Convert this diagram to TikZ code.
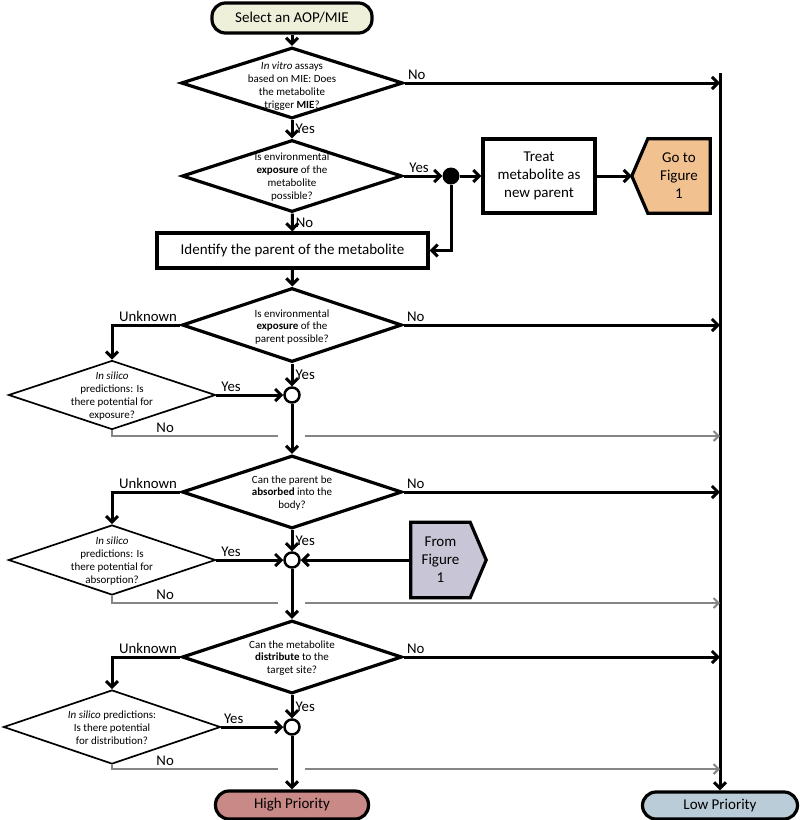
\documentclass[tikz,border=0pt]{standalone}
\usepackage{fontspec}
\setmainfont{Carlito}
\usetikzlibrary{arrows.meta,shapes.geometric,backgrounds}
\definecolor{startfill}{HTML}{EEF0DA}
\definecolor{highfill}{HTML}{C98A87}
\definecolor{lowfill}{HTML}{B9CCD8}
\definecolor{gofill}{HTML}{F2C190}
\definecolor{fromfill}{HTML}{C8C6D6}
\definecolor{grayline}{HTML}{858585}
\begin{document}
\begin{tikzpicture}[x=1pt,y=-1pt,
  arr/.style={line width=3pt,-{Straight Barb[length=6pt,width=12pt]}},
  garr/.style={line width=2pt,draw=grayline,-{Straight Barb[length=5pt,width=10pt]}},
  gline/.style={line width=2pt,draw=grayline},
  dia/.style={diamond,draw,line width=3.2pt,inner sep=0pt},
  sdia/.style={diamond,draw,line width=1.7pt,inner sep=0pt},
  dtext/.style={align=center,font=\fontsize{11}{12.8}\selectfont,inner sep=0pt},
  lab/.style={font=\fontsize{14.8}{17}\selectfont,inner sep=2pt},
  box/.style={draw,line width=3.2pt,align=center,font=\fontsize{15}{18}\selectfont,inner sep=0pt},
  term/.style={draw,line width=3.2pt,rounded corners=13.5pt,font=\fontsize{15}{18}\selectfont,inner sep=0pt},
  pent/.style={align=center,font=\fontsize{15}{18}\selectfont,inner sep=0pt},
  junc/.style={circle,draw,line width=2.5pt,fill=white,minimum size=15pt,inner sep=0pt},
  dot/.style={circle,fill=black,minimum size=17pt,inner sep=0pt}
]
\useasboundingbox (0,0) rectangle (800,820);

% terminals
\node[term,fill=startfill,minimum width=160pt,minimum height=30pt] (start) at (292,18) {Select an AOP/MIE};
\node[term,fill=highfill,minimum width=153pt,minimum height=28pt] (high) at (292,805) {High Priority};
\node[term,fill=lowfill,minimum width=155pt,minimum height=27pt] (low) at (720,805.5) {Low Priority};

% main diamonds
\node[dia,minimum width=222pt,minimum height=71pt] (d1) at (292,83) {};
\node[dtext] (d1t) at (292,86) {\textit{In vitro} assays\\based on MIE: Does\\the metabolite\\trigger \textbf{MIE}?};
\node[dia,minimum width=220pt,minimum height=72pt] (d2) at (292,176) {};
\node[dtext] (d2t) at (292,177) {Is environmental\\\textbf{exposure} of the\\metabolite\\possible?};
\node[dia,minimum width=220pt,minimum height=74pt] (d3) at (292,325) {};
\node[dtext] (d3t) at (292,327) {Is environmental\\\textbf{exposure} of the\\parent possible?};
\node[dia,minimum width=220pt,minimum height=73pt] (d4) at (292,492) {};
\node[dtext] (d4t) at (292,493) {Can the parent be\\\textbf{absorbed} into the\\body?};
\node[dia,minimum width=220pt,minimum height=73pt] (d5) at (292,657) {};
\node[dtext] (d5t) at (292,658) {Can the metabolite\\\textbf{distribute} to the\\target site?};

% small diamonds
\node[sdia,minimum width=207pt,minimum height=69pt] (s3) at (112,395) {};
\node[dtext] (s3t) at (112,396) {\textit{In silico}\\predictions: Is\\there potential for\\exposure?};
\node[sdia,minimum width=207pt,minimum height=70pt] (s4) at (112,560) {};
\node[dtext] (s4t) at (112,561) {\textit{In silico}\\predictions: Is\\there potential for\\absorption?};
\node[sdia,minimum width=217pt,minimum height=74pt] (s5) at (112,727) {};
\node[dtext] (s5t) at (112,728) {\textit{In silico} predictions:\\Is there potential\\for distribution?};

% boxes
\node[box,minimum width=112pt,minimum height=74pt] (treat) at (539,176) {Treat\\metabolite as\\new parent};
\node[box,minimum width=271pt,minimum height=35pt] (ident) at (292.5,250.5) {Identify the parent of the metabolite};

% pentagons
\node[pent,minimum width=62pt,minimum height=74pt] (go) at (679,176) {Go to\\Figure\\1};
\coordinate (gotip) at ([xshift=-16pt]go.west);
\node[pent,minimum width=59pt,minimum height=75pt] (from) at (440.5,560) {From\\Figure\\1};
\coordinate (fromtip) at ([xshift=16pt]from.east);
\begin{scope}[on background layer]
\filldraw[fill=gofill,line width=3.2pt] (go.north west) -- (go.north east) -- (go.south east) -- (go.south west) -- (gotip) -- cycle;
\filldraw[fill=fromfill,line width=3.2pt] (from.north west) -- (from.north east) -- (fromtip) -- (from.south east) -- (from.south west) -- cycle;
\end{scope}

% junctions
\node[dot] (jd) at (451,176) {};
\node[junc] (c3) at (292,395) {};
\node[junc] (c4) at (292,560) {};
\node[junc] (c5) at (292,727) {};

% right collector line
\coordinate (rtop) at (720,73);
\draw[arr] (rtop) -- (low);

% top section
\draw[arr] (start) -- (d1);
\draw[arr] (d1.east) -- node[lab,above right,pos=0]{No} (d1.east -| rtop);
\draw[arr] (d1) -- node[lab,right]{Yes} (d2);
\draw[arr] (d2.east) -- node[lab,above,pos=0.4]{Yes} (jd);
\draw[arr] (jd) -- (treat);
\draw[arr] (treat) -- (gotip);
\draw[arr] (jd) |- (ident.east);
\draw[arr] (d2) -- node[lab,right]{No} (ident);
\draw[arr] (ident) -- (d3);

% section 3
\draw[arr] (d3.east) -- node[lab,above right,pos=0]{No} (d3.east -| rtop);
\draw[arr] (d3.west) -| node[lab,above left,pos=0]{Unknown} (s3.north);
\draw[arr] (d3.south) -- node[lab,right]{Yes} (c3);
\draw[arr] (s3.east) -- node[lab,above,pos=0.22]{Yes} (c3);
\draw[arr] (c3) -- (d4);
\coordinate (g3a) at (278,436);
\coordinate (g3b) at (305,436);
\draw[gline] (s3.south) |- node[lab,above,pos=0.66,text=black]{No} (g3a);
\draw[garr] (g3b) -- (g3b -| rtop);

% section 4
\draw[arr] (d4.east) -- node[lab,above right,pos=0]{No} (d4.east -| rtop);
\draw[arr] (d4.west) -| node[lab,above left,pos=0]{Unknown} (s4.north);
\draw[arr] (d4.south) -- node[lab,right]{Yes} (c4);
\draw[arr] (s4.east) -- node[lab,above,pos=0.22]{Yes} (c4);
\draw[arr] (from.west) -- (c4);
\draw[arr] (c4) -- (d5);
\coordinate (g4a) at (278,603);
\coordinate (g4b) at (305,603);
\draw[gline] (s4.south) |- node[lab,above,pos=0.66,text=black]{No} (g4a);
\draw[garr] (g4b) -- (g4b -| rtop);

% section 5
\draw[arr] (d5.east) -- node[lab,above right,pos=0]{No} (d5.east -| rtop);
\draw[arr] (d5.west) -| node[lab,above left,pos=0]{Unknown} (s5.north);
\draw[arr] (d5.south) -- node[lab,right]{Yes} (c5);
\draw[arr] (s5.east) -- node[lab,above,pos=0.2]{Yes} (c5);
\draw[arr] (c5) -- (high);
\coordinate (g5a) at (278,769);
\coordinate (g5b) at (305,769);
\draw[gline] (s5.south) |- node[lab,above,pos=0.66,text=black]{No} (g5a);
\draw[garr] (g5b) -- (g5b -| rtop);
\end{tikzpicture}
\end{document}
